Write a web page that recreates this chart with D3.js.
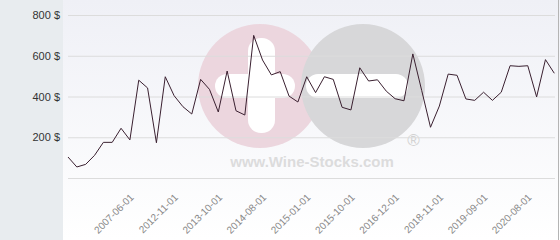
<!DOCTYPE html>
<html lang="en">
<head>
  <meta charset="UTF-8" />
  <title>Wine price history</title>
  <script src="https://d3js.org/d3.v7.min.js"></script>
  <style>
    body { margin: 0; background: #fff; }
    svg { display: block; font-family: "DejaVu Sans", sans-serif; }
  </style>
</head>
<body>
  <div id="chart"></div>

  <script>
    // Price per point (USD)
    const prices = [
      103, 54, 67, 111, 175, 175, 244, 187, 480, 442,
      173, 497, 404, 350, 314, 484, 435, 324, 525, 330,
      309, 700, 579, 506, 522, 402, 373, 497, 419, 497,
      484, 347, 334, 541, 476, 482, 426, 389, 379, 609,
      430, 249, 353, 510, 504, 388, 381, 421, 381, 421,
      551, 548, 551, 398, 581, 514
    ];
    // Labelled points on the x axis
    const tickIndex = [7, 12, 17, 22, 27, 32, 37, 42, 47, 52];
    const tickDates = [
      "2007-06-01", "2012-11-01", "2013-10-01", "2014-08-01", "2015-01-01",
      "2015-10-01", "2016-12-01", "2018-11-01", "2019-09-01", "2020-08-01"
    ];
    const yTicks = [0, 200, 400, 600, 800];

    const width = 560, height = 240;
    const plotLeft = 68, plotRight = 555, plotTop = 15, plotBottom = 178;

    const svg = d3.select("#chart").append("svg")
      .attr("width", width)
      .attr("height", height);

    // background
    const grad = svg.append("defs").append("linearGradient")
      .attr("id", "bg").attr("x1", 0).attr("y1", 0).attr("x2", 0).attr("y2", 1);
    grad.append("stop").attr("offset", "0%").attr("stop-color", "#eff0f6");
    grad.append("stop").attr("offset", "100%").attr("stop-color", "#ffffff");

    svg.append("rect").attr("x", 63).attr("y", 0)
      .attr("width", width - 63).attr("height", height)
      .attr("fill", "url(#bg)");
    svg.append("rect").attr("x", 0).attr("y", 0)
      .attr("width", 63).attr("height", height)
      .attr("fill", "#e8ecef");
    svg.append("line")
      .attr("x1", 558.5).attr("x2", 558.5).attr("y1", 0).attr("y2", height)
      .attr("stroke", "#b4b4b4");

    const x = d3.scalePoint()
      .domain(d3.range(prices.length))
      .range([plotLeft, 554.3]);
    const y = d3.scaleLinear()
      .domain([0, 800])
      .range([plotBottom, plotTop]);

    // watermark
    const wm = svg.append("g");
    wm.append("circle").attr("cx", 260).attr("cy", 86).attr("r", 62).attr("fill", "#ecd6de");
    wm.append("circle").attr("cx", 363).attr("cy", 86).attr("r", 62).attr("fill", "#d7d7d9");
    wm.append("rect").attr("x", 215).attr("y", 74).attr("width", 80).attr("height", 24)
      .attr("rx", 12).attr("fill", "#ffffff");
    wm.append("rect").attr("x", 248).attr("y", 38).attr("width", 27).attr("height", 95)
      .attr("rx", 13).attr("fill", "#ffffff");
    wm.append("rect").attr("x", 306).attr("y", 74).attr("width", 102).attr("height", 24)
      .attr("rx", 12).attr("fill", "#ffffff");
    wm.append("text").attr("x", 312).attr("y", 167)
      .attr("text-anchor", "middle")
      .style("font-family", "'Liberation Sans', Arial, sans-serif")
      .style("font-weight", "bold").style("font-size", "15px")
      .attr("fill", "#dcdcdc")
      .text("www.Wine-Stocks.com");
    wm.append("text").attr("x", 413.5).attr("y", 146)
      .attr("text-anchor", "middle")
      .style("font-family", "'Liberation Sans', Arial, sans-serif")
      .style("font-size", "17px")
      .attr("fill", "#d2d2d2")
      .text("®");

    // y axis + gridlines
    const yAxis = svg.append("g")
      .attr("transform", `translate(${plotLeft},0)`)
      .call(d3.axisLeft(y)
        .tickValues(yTicks)
        .tickSizeInner(-(plotRight - plotLeft))
        .tickSizeOuter(0)
        .tickPadding(8)
        .tickFormat(d => d === 0 ? "" : d + " $"));
    yAxis.select(".domain").remove();
    yAxis.selectAll(".tick line").attr("stroke", "#dcdcdc");
    yAxis.selectAll(".tick text")
      .style("font-size", "11px")
      .attr("fill", "#333");

    // x axis labels
    const xAxis = svg.append("g")
      .attr("transform", `translate(0,${plotBottom})`)
      .call(d3.axisBottom(x)
        .tickValues(tickIndex)
        .tickSize(0)
        .tickFormat((d, i) => tickDates[i]));
    xAxis.select(".domain").remove();
    xAxis.selectAll(".tick text")
      .attr("y", 0).attr("dy", 0)
      .attr("text-anchor", "end")
      .attr("transform", "translate(4,20) rotate(-45)")
      .style("font-size", "10px")
      .attr("fill", "#888888");

    // price line
    const line = d3.line()
      .x((d, i) => x(i))
      .y(d => y(d));

    svg.append("path")
      .datum(prices)
      .attr("fill", "none")
      .attr("stroke", "#3a2030")
      .attr("stroke-width", 1)
      .attr("d", line);
  </script>
</body>
</html>
